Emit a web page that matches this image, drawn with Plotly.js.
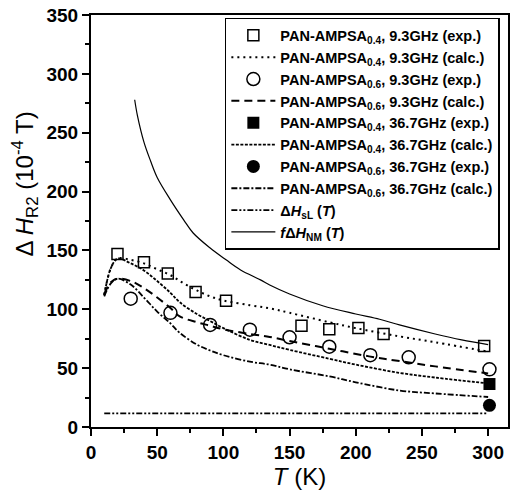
<!DOCTYPE html>
<html>
<head>
<meta charset="utf-8">
<script src="https://cdn.plot.ly/plotly-3.0.1.min.js"></script>
<style>html,body{margin:0;padding:0;background:#fff;}#chart{width:511px;height:497px;}</style>
</head>
<body>
<div id="chart"></div>
<script>
// Experimental points
const tSq04_93 = [20, 40, 58, 79, 102, 159, 180, 202, 221, 297];
const vSq04_93 = [147, 140, 130.5, 114.7, 107.3, 86, 83, 84, 79, 68.8];
const tCi06_93 = [30, 60, 90, 120, 150, 180, 211, 240, 301];
const vCi06_93 = [109, 97, 86.7, 82.7, 76.2, 68.2, 61, 59.2, 49];
const tSq04_367 = [301];
const vSq04_367 = [36.5];
const tCi06_367 = [301];
const vCi06_367 = [18.4];

// Calculated curves
const tCalc04_93 = [10, 15, 20, 30, 40, 50, 60, 70, 80, 90, 100, 120, 135, 150, 180, 200, 233, 260, 300];
const vCalc04_93 = [112, 135, 143, 142, 139, 134, 129, 122, 116, 111, 107.5, 103.5, 100.8, 97, 89, 84, 77, 72, 64];
const tCalc06_93 = [10, 15, 20, 30, 40, 50, 60, 67, 80, 90, 100, 120, 135, 150, 180, 210, 233, 260, 300];
const vCalc06_93 = [113, 123, 126, 124, 118, 110, 101, 94, 89, 86, 83, 79, 76.5, 73, 66.5, 60, 56, 51.5, 45.5];
const tCalc04_367 = [10, 15, 20, 30, 40, 50, 60, 67, 80, 90, 100, 120, 135, 150, 180, 200, 233, 260, 300];
const vCalc04_367 = [112, 135, 143, 139, 133, 124, 114, 106, 96, 90, 84, 74, 69.7, 65.5, 58, 53, 46, 42, 37];
const tCalc06_367 = [10, 15, 20, 30, 40, 50, 60, 67, 80, 90, 100, 120, 135, 150, 180, 200, 233, 260, 300];
const vCalc06_367 = [111, 122, 126, 121, 110, 98, 88, 80, 70, 65, 61, 55.5, 53, 49, 43, 38, 31, 28.5, 25.5];
const tSL = [10, 300];
const vSL = [11.6, 11.6];
const tNM = [33, 35, 40, 45, 50, 60, 70, 77, 90, 102, 113, 128, 135, 150, 175, 200, 218, 233, 260, 280, 300];
const vNM = [278, 265, 242, 226, 212, 193, 176, 165, 152, 142, 133.4, 125, 120.6, 113, 103, 96, 91.5, 86.7, 79, 74, 70];

const names = [
  'PAN-AMPSA<sub>0.4</sub>, 9.3GHz (exp.)',
  'PAN-AMPSA<sub>0.4</sub>, 9.3GHz (calc.)',
  'PAN-AMPSA<sub>0.6</sub>, 9.3GHz (exp.)',
  'PAN-AMPSA<sub>0.6</sub>, 9.3GHz (calc.)',
  'PAN-AMPSA<sub>0.4</sub>, 36.7GHz (exp.)',
  'PAN-AMPSA<sub>0.4</sub>, 36.7GHz (calc.)',
  'PAN-AMPSA<sub>0.6</sub>, 36.7GHz (exp.)',
  'PAN-AMPSA<sub>0.6</sub>, 36.7GHz (calc.)',
  '\u0394<i>H</i><sub>sL</sub> (<i>T</i>)',
  '<i>f</i>\u0394<i>H</i><sub>NM</sub> (<i>T</i>)'
];
const yTitle = '\u0394 <i>H</i><sub>R2</sub> (10<sup>-4</sup> T)';
const xTitle = '<i>T</i> (K)';

const blk = '#000';
const fam = 'Liberation Sans, Arial, sans-serif';
const traces = [
  {x: tSq04_93, y: vSq04_93, name: names[0], mode: 'markers', type: 'scatter',
   marker: {symbol: 'square-open', size: 11, color: blk, line: {width: 1.5, color: blk}}},
  {x: tCalc04_93, y: vCalc04_93, name: names[1], mode: 'lines', type: 'scatter', line: {shape: 'spline', color: blk, width: 2, dash: '2px,4px'}},
  {x: tCi06_93, y: vCi06_93, name: names[2], mode: 'markers', type: 'scatter',
   marker: {symbol: 'circle-open', size: 13, color: blk, line: {width: 1.5, color: blk}}},
  {x: tCalc06_93, y: vCalc06_93, name: names[3], mode: 'lines', type: 'scatter', line: {shape: 'spline', color: blk, width: 2, dash: '8px,5px'}},
  {x: tSq04_367, y: vSq04_367, name: names[4], mode: 'markers', type: 'scatter',
   marker: {symbol: 'square', size: 12, color: blk}},
  {x: tCalc04_367, y: vCalc04_367, name: names[5], mode: 'lines', type: 'scatter', line: {shape: 'spline', color: blk, width: 1.8, dash: '3px,1.5px'}},
  {x: tCi06_367, y: vCi06_367, name: names[6], mode: 'markers', type: 'scatter',
   marker: {symbol: 'circle', size: 13, color: blk}},
  {x: tCalc06_367, y: vCalc06_367, name: names[7], mode: 'lines', type: 'scatter', line: {shape: 'spline', color: blk, width: 1.8, dash: '6px,2px,2px,2px'}},
  {x: tSL, y: vSL, name: names[8], mode: 'lines', type: 'scatter', line: {color: blk, width: 1.8, dash: '6px,2px,2px,2px,2px,2px'}},
  {x: tNM, y: vNM, name: names[9], mode: 'lines', type: 'scatter', line: {shape: 'spline', color: blk, width: 1.2}}
];

const tickFont = {family: fam, size: 19, color: blk, weight: 700};
const layout = {
  width: 511, height: 497,
  margin: {l: 91, r: 3, t: 15, b: 70},
  paper_bgcolor: '#fff', plot_bgcolor: '#fff',
  showlegend: true,
  legend: {x: 0.321, y: 0.993, xanchor: 'left', yanchor: 'top',
    bgcolor: '#fff', bordercolor: blk, borderwidth: 1.5,
    font: {family: fam, size: 14.5, color: blk, weight: 700},
    itemwidth: 44, tracegroupgap: 0},
  xaxis: {range: [0, 315], tickmode: 'linear', tick0: 0, dtick: 50,
    ticks: 'outside', ticklen: 7, tickwidth: 2, tickcolor: blk,
    minor: {dtick: 25, ticks: 'outside', ticklen: 4, tickwidth: 2, tickcolor: blk, showgrid: false},
    showline: true, linewidth: 2, linecolor: blk, mirror: true,
    showgrid: false, zeroline: false, tickfont: tickFont,
    title: {text: xTitle, font: {family: fam, size: 24, color: blk}, standoff: 6}},
  yaxis: {range: [0, 350], tickmode: 'linear', tick0: 0, dtick: 50,
    ticks: 'outside', ticklen: 7, tickwidth: 2, tickcolor: blk,
    minor: {dtick: 25, ticks: 'outside', ticklen: 4, tickwidth: 2, tickcolor: blk, showgrid: false},
    showline: true, linewidth: 2, linecolor: blk, mirror: true,
    showgrid: false, zeroline: false, tickfont: tickFont},
  annotations: [{
    text: yTitle, textangle: -90, showarrow: false,
    xref: 'paper', yref: 'paper', x: -0.159, y: 0.59, xanchor: 'center', yanchor: 'middle',
    font: {family: fam, size: 24, color: blk}
  }]
};

Plotly.newPlot('chart', traces, layout, {displayModeBar: false, staticPlot: true});
</script>
</body>
</html>
